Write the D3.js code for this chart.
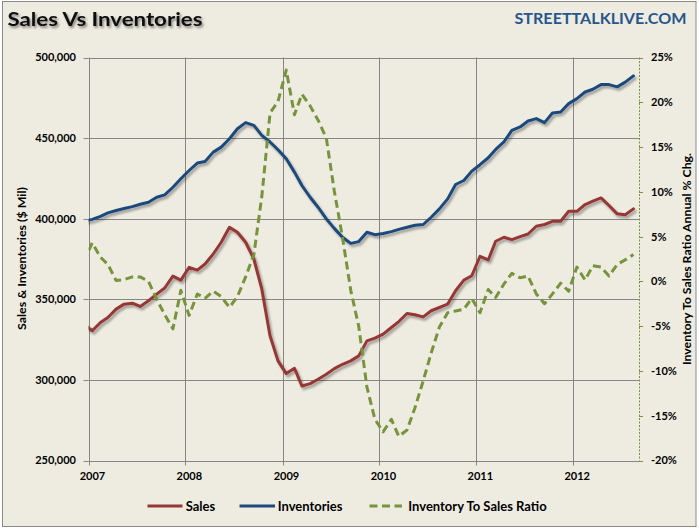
<!DOCTYPE html>
<html><head><meta charset="utf-8">
<script src="https://cdn.jsdelivr.net/npm/d3@7"></script>
<style>
body{margin:0;background:#fff}
svg{display:block}
text{font-family:Lato,"Open Sans",sans-serif;font-weight:bold}
</style>
</head><body><svg id="c" width="699" height="529"></svg>
<script>
// ---- data (monthly, mid-month) ----
const months = ["2006-12",
"2007-01","2007-02","2007-03","2007-04","2007-05","2007-06","2007-07","2007-08","2007-09","2007-10","2007-11","2007-12",
"2008-01","2008-02","2008-03","2008-04","2008-05","2008-06","2008-07","2008-08","2008-09","2008-10","2008-11","2008-12",
"2009-01","2009-02","2009-03","2009-04","2009-05","2009-06","2009-07","2009-08","2009-09","2009-10","2009-11","2009-12",
"2010-01","2010-02","2010-03","2010-04","2010-05","2010-06","2010-07","2010-08","2010-09","2010-10","2010-11","2010-12",
"2011-01","2011-02","2011-03","2011-04","2011-05","2011-06","2011-07","2011-08","2011-09","2011-10","2011-11","2011-12",
"2012-01","2012-02","2012-03","2012-04","2012-05","2012-06","2012-07","2012-08"];

const sales = [334500,
330500,335600,338700,343900,347000,347600,345600,349100,353200,357000,364400,361900,
369800,368100,371900,378100,385400,394700,391600,385400,375000,356300,327300,311800,
303900,307200,296200,297700,300400,303500,307000,309700,311800,314900,324200,325900,
328400,332500,336200,341200,340400,339100,342900,344900,347000,355300,361900,364600,
376700,374400,386000,388500,387000,388900,390500,395300,396400,398400,398400,404600,
404600,408800,410900,412900,408200,403000,402400,406100];

const inventories = [398500,
399600,401500,403600,405100,406300,407500,409000,410200,413300,414800,419500,424800,
429900,434500,435500,441300,444400,449600,455800,459600,457900,451700,447600,442800,
437200,428900,420600,413300,407100,399900,394000,388500,384700,385800,391600,390100,
390800,392000,393400,394700,395900,396400,400900,406100,412300,421200,423700,429500,
433500,437800,443000,447600,454800,456900,460600,462100,459600,465600,466200,471400,
474500,478600,480300,483200,483200,481800,484700,488600];

const ratio = [2.2,
4.3,2.7,1.9,0.1,0.2,0.5,0.5,0.0,-2.0,-3.7,-5.3,-1.0,
-3.8,-1.4,-1.9,-1.1,-1.7,-2.9,-1.7,0.5,3.0,9.5,18.8,20.1,
23.6,18.6,20.9,19.6,18.0,16.0,10.1,4.9,-1.0,-5.0,-11.8,-15.4,
-16.8,-15.4,-17.3,-16.6,-14.1,-11.1,-8.0,-5.1,-3.5,-3.3,-3.1,-1.9,
-3.5,-0.9,-1.8,-0.3,0.9,0.4,0.6,-1.4,-2.5,-1.4,-0.2,-1.1,
1.6,0.15,1.75,1.6,0.6,1.9,2.4,3.0];

const yearTicks = [2007,2008,2009,2010,2011,2012];
const leftTicks = [250000,300000,350000,400000,450000,500000];
const rightTicks = [-20,-15,-10,-5,0,5,10,15,20,25];
const seriesNames = ["Sales","Inventories","Inventory To Sales Ratio"];
const title = "Sales Vs Inventories";
const brand = "STREETTALKLIVE.COM";
const leftTitle = "Sales & Inventories ($ Mil)";
const rightTitle = "Inventory To Sales Ratio Annual % Chg.";

// ---- styles ----
const C = {bg:"#EEECE1", grid:"#868686", red:"#953735", blue:"#1F497D", green:"#77933C", brand:"#28558C"};

const svg = d3.select("#c");
const W = 699, H = 529;
const P = {l:88.5, r:639, t:57.5, b:460.5};

const defs = svg.append("defs");
const f = defs.append("filter").attr("id","sh").attr("x","-10%").attr("y","-10%").attr("width","120%").attr("height","120%");
f.append("feDropShadow").attr("dx",1.8).attr("dy",2.4).attr("stdDeviation",1.3).attr("flood-color","#000").attr("flood-opacity",0.35);
const ft = defs.append("filter").attr("id","tsh").attr("x","-10%").attr("y","-30%").attr("width","120%").attr("height","160%");
ft.append("feDropShadow").attr("dx",1.5).attr("dy",2).attr("stdDeviation",1.2).attr("flood-color","#000").attr("flood-opacity",0.45);
defs.append("clipPath").attr("id","clip").append("rect")
  .attr("x",P.l).attr("y",0).attr("width",P.r-P.l).attr("height",H);

// frame
svg.append("rect").attr("x",2.5).attr("y",1.5).attr("width",693.5).attr("height",525)
  .attr("fill",C.bg).attr("stroke","#8a8a8a").attr("stroke-width",1);

// scales
const parse = d3.timeParse("%Y-%m-%d");
const dates = months.map(m => parse(m + "-15"));
const x = d3.scaleTime().domain([new Date(2007,0,1), new Date(2012,8,5)]).range([P.l, P.r]);
const yL = d3.scaleLinear().domain([250000,500000]).range([P.b, P.t]);
const yR = d3.scaleLinear().domain([-20,25]).range([P.b, P.t]);

const g = svg.append("g");

// horizontal gridlines
g.selectAll(".hg").data(leftTicks).join("line")
  .attr("x1",P.l).attr("x2",P.r)
  .attr("y1",d=>Math.round(yL(d))+0.5).attr("y2",d=>Math.round(yL(d))+0.5)
  .attr("stroke",C.grid).attr("stroke-width",1);
// vertical gridlines (years) + ticks below
g.selectAll(".vg").data(yearTicks).join("line")
  .attr("x1",d=>Math.round(x(new Date(d,0,1)))+0.5).attr("x2",d=>Math.round(x(new Date(d,0,1)))+0.5)
  .attr("y1",P.t).attr("y2",P.b+5)
  .attr("stroke",C.grid).attr("stroke-width",1);
// left ticks
g.selectAll(".lt").data(leftTicks).join("line")
  .attr("x1",P.l-5).attr("x2",P.l)
  .attr("y1",d=>Math.round(yL(d))+0.5).attr("y2",d=>Math.round(yL(d))+0.5)
  .attr("stroke",C.grid);
// left tick labels
g.selectAll(".ll").data(leftTicks).join("text")
  .attr("x",76).attr("y",d=>yL(d)).attr("dy","0.36em")
  .attr("text-anchor","end").attr("font-size",11).attr("fill","#000")
  .text(d=>d3.format(",")(d));

// right axis (dashed green)
g.append("line").attr("x1",P.r+0.5).attr("x2",P.r+0.5).attr("y1",P.t).attr("y2",P.b)
  .attr("stroke",C.green).attr("stroke-width",1).attr("stroke-dasharray","2,1.5");
g.selectAll(".rt").data(rightTicks).join("line")
  .attr("x1",P.r).attr("x2",P.r+4)
  .attr("y1",d=>Math.round(yR(d))+0.5).attr("y2",d=>Math.round(yR(d))+0.5)
  .attr("stroke",C.green);
g.selectAll(".rl").data(rightTicks).join("text")
  .attr("x",651).attr("y",d=>yR(d)).attr("dy","0.36em")
  .attr("font-size",11).attr("fill","#000")
  .text(d=>d+"%");

// x labels
g.selectAll(".xl").data(yearTicks).join("text")
  .attr("x",d=>x(new Date(d,0,16))).attr("y",480)
  .attr("text-anchor","middle").attr("font-size",11).attr("fill","#000")
  .text(d=>d);

// lines
const plot = svg.append("g").attr("clip-path","url(#clip)");
const lineL = vals => d3.line().x((d,i)=>x(dates[i])).y(d=>yL(d))(vals);
const lineR = vals => d3.line().x((d,i)=>x(dates[i])).y(d=>yR(d))(vals);

plot.append("path").attr("d",lineL(sales)).attr("fill","none").attr("stroke",C.red)
  .attr("stroke-width",3).attr("stroke-linejoin","round").attr("stroke-linecap","round").attr("filter","url(#sh)");
plot.append("path").attr("d",lineL(inventories)).attr("fill","none").attr("stroke",C.blue)
  .attr("stroke-width",3).attr("stroke-linejoin","round").attr("stroke-linecap","round").attr("filter","url(#sh)");
plot.append("path").attr("d",lineR(ratio)).attr("fill","none").attr("stroke",C.green)
  .attr("stroke-width",3).attr("stroke-linejoin","round").attr("stroke-dasharray","8,4.5");

// titles
svg.append("text").attr("x",7.5).attr("y",26).attr("font-size",19.5).attr("fill","#111")
  .attr("filter","url(#tsh)").attr("textLength",195).attr("lengthAdjust","spacingAndGlyphs").text(title);
svg.append("text").attr("x",514.5).attr("y",24).attr("font-size",15.5).attr("fill",C.brand)
  .attr("textLength",172).attr("lengthAdjust","spacingAndGlyphs").text(brand);
svg.append("text").attr("transform","translate(26,258.5) rotate(-90)").attr("text-anchor","middle")
  .attr("font-size",11).attr("fill","#000").attr("textLength",143).attr("lengthAdjust","spacingAndGlyphs").text(leftTitle);
svg.append("text").attr("transform","translate(690.5,259) rotate(-90)").attr("text-anchor","middle")
  .attr("font-size",11.5).attr("fill","#000").attr("textLength",212).attr("lengthAdjust","spacingAndGlyphs").text(rightTitle);

// legend
const leg = [
  {name:seriesNames[0], color:C.red, x1:147.5, x2:182.5, tx:185.7, dash:null},
  {name:seriesNames[1], color:C.blue, x1:239.5, x2:275, tx:277.7, dash:null},
  {name:seriesNames[2], color:C.green, x1:369.5, x2:402, tx:408.3, dash:"8,4.5"}
];
const lg = svg.append("g");
lg.selectAll("line").data(leg).join("line")
  .attr("x1",d=>d.x1).attr("x2",d=>d.x2).attr("y1",506).attr("y2",506)
  .attr("stroke",d=>d.color).attr("stroke-width",3).attr("stroke-dasharray",d=>d.dash);
lg.selectAll("text").data(leg).join("text")
  .attr("x",d=>d.tx).attr("y",510.5).attr("font-size",13).attr("fill","#000")
  .text(d=>d.name);
</script>
</body></html>
